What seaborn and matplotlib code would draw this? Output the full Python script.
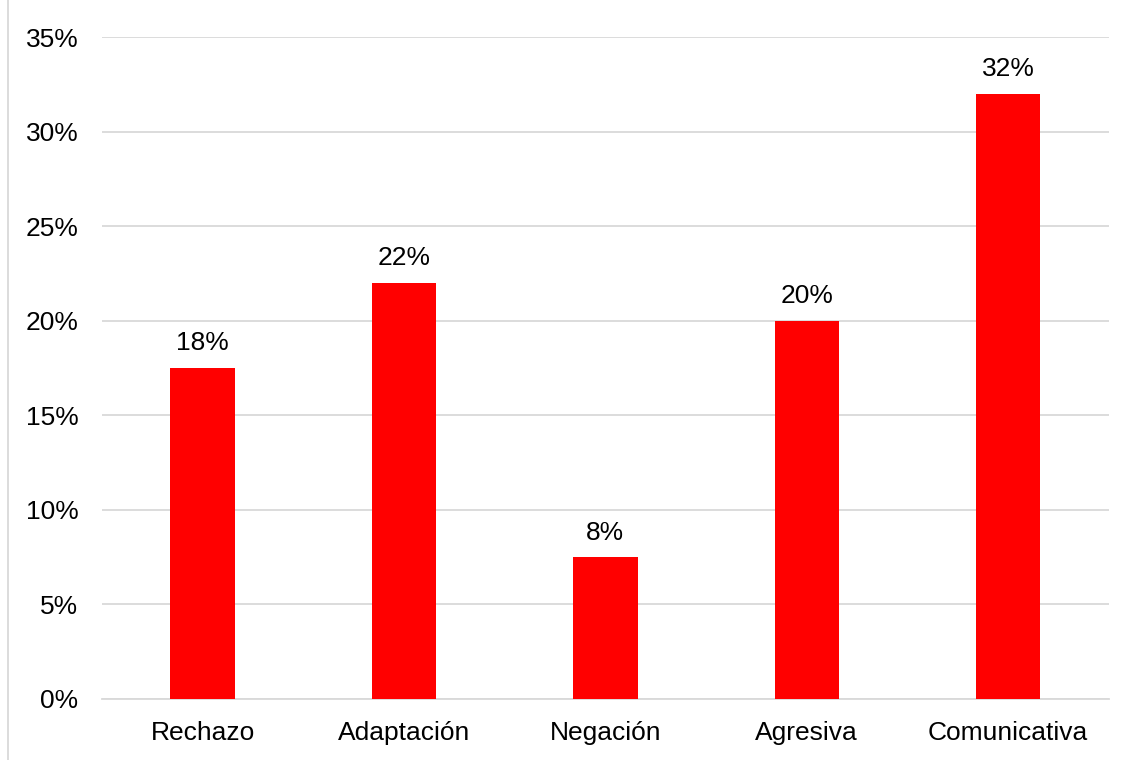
import matplotlib
matplotlib.use("Agg")
import matplotlib.pyplot as plt
import matplotlib.lines as mlines
import pandas as pd
import seaborn as sns
from matplotlib.ticker import FuncFormatter

# Data
categorias = ['Rechazo', 'Adaptación', 'Negación', 'Agresiva', 'Comunicativa']
porcentajes = [17.5, 22, 7.5, 20, 32]
etiquetas = ['18%', '22%', '8%', '20%', '32%']

df = pd.DataFrame({'categoria': categorias, 'porcentaje': porcentajes})

sns.set_theme(style='white')
plt.rcParams['font.family'] = ['Liberation Sans', 'DejaVu Sans']

fig = plt.figure(figsize=(11.35, 7.6), dpi=100)
ax = fig.add_axes([0.0899, 0.0803, 0.887, 0.871])

sns.barplot(data=df, x='categoria', y='porcentaje', color='#ff0000',
            width=0.32, saturation=1, linewidth=0, ax=ax, zorder=3)

# Value labels above each bar
for i, (v, lab) in enumerate(zip(porcentajes, etiquetas)):
    ax.annotate(lab, (i, v), xytext=(0, 9), textcoords='offset points',
                ha='center', va='bottom', fontsize=19, color='#000000')

ax.set_ylim(0, 35)
ax.set_yticks(range(0, 36, 5))
ax.yaxis.set_major_formatter(FuncFormatter(lambda y, _: f'{int(y)}%'))
ax.grid(axis='y', color='#d9d9d9', linewidth=1.3, zorder=0)
ax.set_axisbelow(True)
ax.set_xlabel('')
ax.set_ylabel('')
for s in ['top', 'right', 'left']:
    ax.spines[s].set_visible(False)
ax.spines['bottom'].set_color('#d9d9d9')
ax.spines['bottom'].set_linewidth(1.3)
ax.tick_params(axis='both', length=0, labelsize=19, colors='#000000')
ax.tick_params(axis='y', pad=17)
ax.tick_params(axis='x', pad=16)

# Light frame line at left edge of chart area
fig.add_artist(mlines.Line2D([8 / 1135, 8 / 1135], [0, 1], color='#d9d9d9',
                             linewidth=1.3, transform=fig.transFigure))

fig.savefig('out.png', dpi=100)
